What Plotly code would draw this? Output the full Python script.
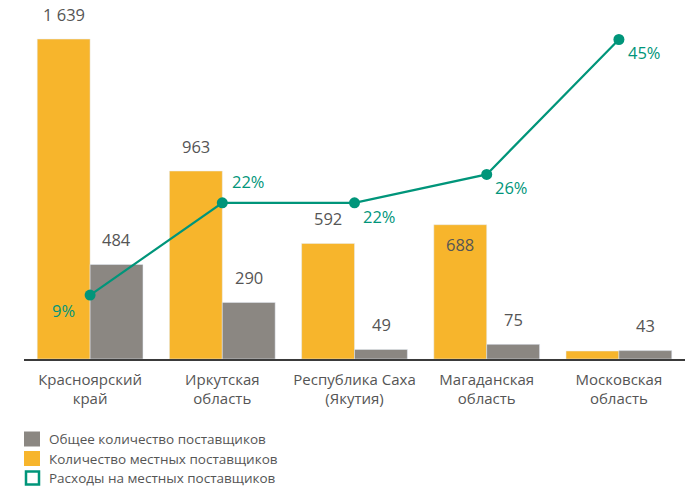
import plotly.graph_objects as go

# Regions
regions = ["Красноярский<br>край", "Иркутская<br>область", "Республика Саха<br>(Якутия)",
           "Магаданская<br>область", "Московская<br>область"]
# Number of local suppliers
local_suppliers = [1639, 963, 592, 688, 41]
local_labels = ["1 639", "963", "592", "688", ""]
# Total number of suppliers
total_suppliers = [484, 290, 49, 75, 43]
total_labels = ["484", "290", "49", "75", "43"]
# Spending on local suppliers, %
local_spend = [9, 22, 22, 26, 45]
spend_labels = ["9%", "22%", "22%", "26%", "45%"]

ORANGE = "#F7B52C"
GRAY = "#8B8782"
GREEN = "#00957A"
TEXT = "#555555"
FONT = "Open Sans"

W, H = 691, 488
ML, MR, MT, MB = 24, 6, 20, 129
PW, PH = W - ML - MR, H - MT - MB


def px_x(px):
    return (px - ML) / PW


def px_y(py):
    return (H - MB - py) / PH


fig = go.Figure()
fig.add_trace(go.Bar(x=regions, y=local_suppliers, marker_color=ORANGE,
                     name="Количество местных поставщиков", showlegend=False))
fig.add_trace(go.Bar(x=regions, y=total_suppliers, marker_color=GRAY,
                     name="Общее количество поставщиков", showlegend=False))
fig.add_trace(go.Scatter(x=regions, y=local_spend, yaxis="y2", mode="lines+markers",
                         line=dict(color=GREEN, width=2.2),
                         marker=dict(color=GREEN, size=11),
                         name="Расходы на местных поставщиков", showlegend=False))

annotations = []
# value labels over bars (688 sits inside its bar, below the line)
for i, (cat, v, t) in enumerate(zip(regions, local_suppliers, local_labels)):
    if not t:
        continue
    ys = -20 if i == 3 else 25
    annotations.append(dict(x=cat, y=v, text=t, xref="x", yref="y", showarrow=False,
                            xshift=-26.5, yshift=ys,
                            font=dict(family=FONT, size=16.5, color=TEXT)))
for cat, v, t in zip(regions, total_suppliers, total_labels):
    annotations.append(dict(x=cat, y=v, text=t, xref="x", yref="y", showarrow=False,
                            xshift=26.5, yshift=25,
                            font=dict(family=FONT, size=16.5, color=TEXT)))

# percent labels around line points
pct_offsets = [(-27, -15), (26, 21), (25, -14), (25, -13), (26, -13)]
for (cat, v, t), (dx, dy) in zip(zip(regions, local_spend, spend_labels), pct_offsets):
    annotations.append(dict(x=cat, y=v, text=t, xref="x", yref="y2", showarrow=False,
                            xshift=dx, yshift=dy,
                            font=dict(family=FONT, size=16.5, color=GREEN)))

# custom legend
legend_items = [("Общее количество поставщиков", GRAY, "fill", 439),
                ("Количество местных поставщиков", ORANGE, "fill", 458.5),
                ("Расходы на местных поставщиков", GREEN, "open", 478)]
shapes = []
for text, color, kind, cy in legend_items:
    if kind == "fill":
        shapes.append(dict(type="rect", xref="paper", yref="paper",
                           xsizemode="pixel", ysizemode="pixel",
                           xanchor=px_x(24), yanchor=px_y(cy),
                           x0=0, x1=16, y0=-7.5, y1=7.5,
                           fillcolor=color, line=dict(width=0)))
    else:
        shapes.append(dict(type="rect", xref="paper", yref="paper",
                           xsizemode="pixel", ysizemode="pixel",
                           xanchor=px_x(24), yanchor=px_y(cy),
                           x0=2, x1=15, y0=-6.5, y1=6.5,
                           fillcolor="white", line=dict(width=2.5, color=color)))
    annotations.append(dict(x=px_x(47), y=px_y(cy), xref="paper", yref="paper",
                            xanchor="left", yanchor="middle", showarrow=False, text=text,
                            font=dict(family=FONT, size=13.5, color=TEXT)))

fig.update_layout(
    width=W, height=H,
    margin=dict(l=ML, r=MR, t=MT, b=MB),
    paper_bgcolor="white", plot_bgcolor="white",
    barmode="group", bargap=0.2, bargroupgap=0,
    font=dict(family=FONT, size=15, color=TEXT),
    xaxis=dict(showline=True, linecolor="#3a3a3a", linewidth=1.5, ticks="",
               tickfont=dict(family=FONT, size=15, color=TEXT), ticklabelstandoff=6,
               showgrid=False, zeroline=False),
    yaxis=dict(range=[0, PH / 0.1952], visible=False, showgrid=False, zeroline=False),
    yaxis2=dict(range=[0, PH / 7.1], overlaying="y", visible=False,
                showgrid=False, zeroline=False),
    annotations=annotations,
    shapes=shapes,
    showlegend=False,
)

fig.write_html("out.html")
